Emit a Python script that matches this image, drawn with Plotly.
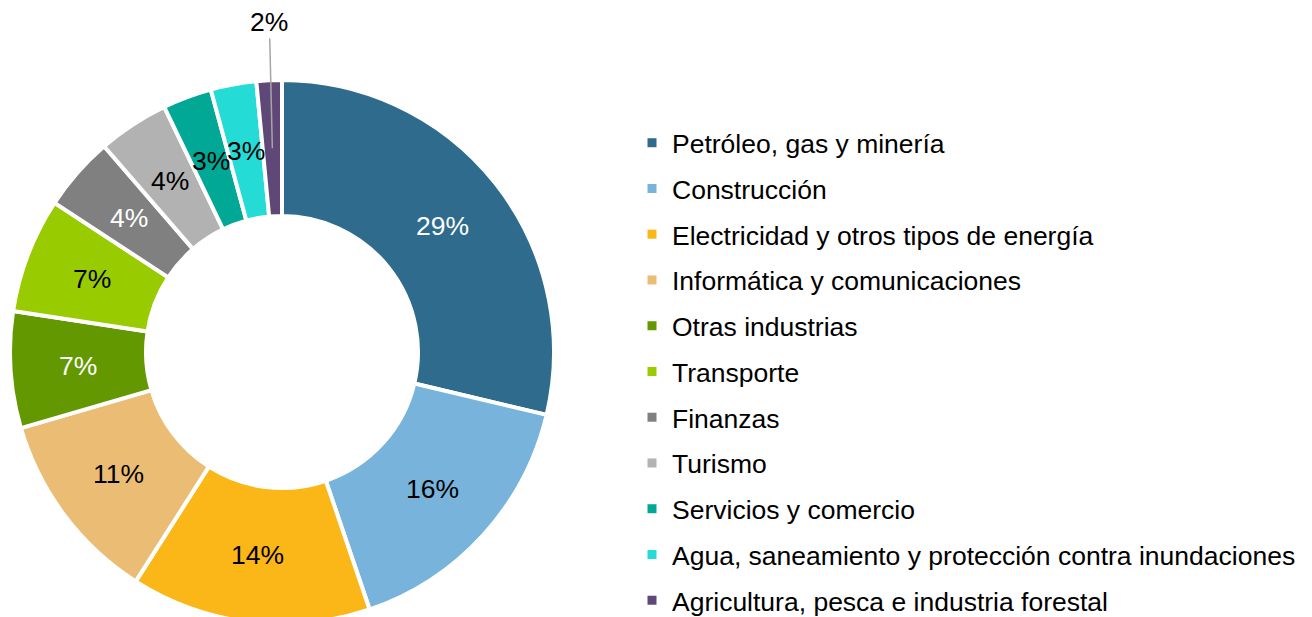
import math
import plotly.graph_objects as go

sectors = [
    "Petróleo, gas y minería",
    "Construcción",
    "Electricidad y otros tipos de energía",
    "Informática y comunicaciones",
    "Otras industrias",
    "Transporte",
    "Finanzas",
    "Turismo",
    "Servicios y comercio",
    "Agua, saneamiento y protección contra inundaciones",
    "Agricultura, pesca e industria forestal",
]
shares = [28.6, 16.0, 14.2, 11.4, 6.9, 6.8, 4.4, 4.2, 2.9, 2.7, 1.5]

colors = ["#2E6B8C", "#78B3DB", "#FBB618", "#EBBD74", "#649800", "#99CC00",
          "#808080", "#B2B2B2", "#00A895", "#25DBD6", "#5F4878"]
text_colors = ["white", "black", "black", "black", "white", "black",
               "white", "black", "black", "black", "black"]

FONT = "Liberation Sans, Arial, sans-serif"
# page body keeps its default 8px margin, so the figure sits 8px in;
# it runs past the bottom of the window on purpose (cut-off donut)
W, H = 1304, 617
HOLE = 0.5

# donut geometry in figure pixels; square domain -> radius = half its size
cx, cy, R = 274, 344, 272
dom_x = [(cx - R) / W, (cx + R) / W]
dom_y = [(H - cy - R) / H, (H - cy + R) / H]

fig = go.Figure()
fig.add_trace(go.Pie(
    labels=sectors,
    values=shares,
    sort=False,
    direction="clockwise",
    rotation=0,
    hole=HOLE,
    marker=dict(colors=colors, line=dict(color="white", width=4)),
    textinfo="none",
    showlegend=False,
    domain=dict(x=dom_x, y=dom_y),
))

# percentage labels: centred on each slice's mid-angle, halfway across the ring
# (Excel-style, small slices keep full-size text that may overflow)
total = sum(shares)
rr = R * (1 + HOLE) / 2
cum = 0
for i, (v, tc) in enumerate(zip(shares, text_colors)):
    mid = (cum + v / 2) / total * 2 * math.pi
    cum += v
    px = cx + rr * math.sin(mid)
    py = cy - rr * math.cos(mid)
    label = f"{round(100 * v / total)}%"
    if i == len(shares) - 1:
        # last slice is too thin: label above it with a leader line
        fig.add_annotation(
            x=px / W, y=1 - py / H, xref="paper", yref="paper",
            text=label, showarrow=True, arrowhead=0, arrowwidth=1.5,
            arrowcolor="#A6A6A6", ax=-3, ay=-(py - 14), standoff=0,
            font=dict(size=26.5, family=FONT, color=tc),
        )
    else:
        fig.add_annotation(
            x=px / W, y=1 - py / H, xref="paper", yref="paper",
            xanchor="center", yanchor="middle",
            text=label, showarrow=False,
            font=dict(size=26.5, family=FONT, color=tc),
        )

# legend entries as separate traces so the row spacing can match
for name, c in zip(sectors, colors):
    fig.add_trace(go.Scatter(
        x=[None], y=[None], mode="markers", name=name,
        marker=dict(symbol="square", size=9, color=c),
        legendgroup=name, showlegend=True,
    ))

fig.update_layout(
    width=W,
    height=H,
    margin=dict(l=0, r=0, t=0, b=0, autoexpand=False),
    paper_bgcolor="white",
    plot_bgcolor="white",
    font=dict(family=FONT, size=26.5, color="black"),
    xaxis=dict(visible=False),
    yaxis=dict(visible=False),
    legend=dict(
        x=624 / W, y=1 - 363.5 / H, xanchor="left", yanchor="middle",
        bgcolor="rgba(0,0,0,0)",
        font=dict(size=26.5, family=FONT, color="black"),
        tracegroupgap=8.3,
        itemwidth=30,
    ),
)

fig.write_html("out.html")
